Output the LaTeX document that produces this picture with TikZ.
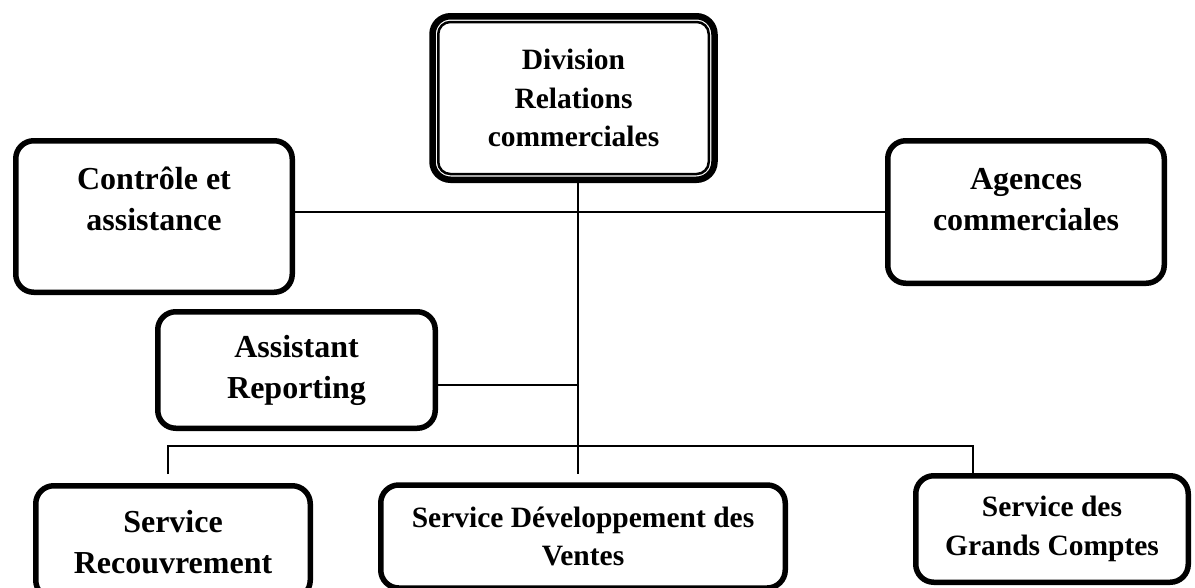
\documentclass[tikz,border=0pt]{standalone}
\usepackage{fontspec}
\setmainfont{Liberation Serif}
\usetikzlibrary{positioning,calc}

\begin{document}
\begin{tikzpicture}[x=1pt, y=-1pt,
  box/.style={draw, line width=5.5pt, rounded corners=18pt, align=center, inner sep=0pt,
    font=\fontsize{29.5}{38.5}\selectfont\bfseries},
  bigbox/.style={box, font=\fontsize{32}{41}\selectfont\bfseries},
  link/.style={line width=1.6pt},
]
  \useasboundingbox (0,0) rectangle (1195,587);

  % head of the division, double frame
  \node[box, line width=6.5pt, minimum width=282pt, minimum height=163.5pt] (div) at (573.5,98) {Division\\Relations\\commerciales};
  \draw[line width=2.5pt, rounded corners=12pt] ([shift={(9,9)}]div.north west) rectangle ([shift={(-9,-9)}]div.south east);

  \node[bigbox, minimum width=276.5pt, text height=89.25pt, text depth=62.25pt] (ctrl) at (154,216.5) {Contrôle et\\assistance};
  \node[bigbox, minimum width=276.5pt, text height=89.25pt, text depth=53.25pt] (agen) at (1026,212) {Agences\\commerciales};
  \node[bigbox, minimum width=277.5pt, minimum height=116.5pt] (asst) at (296.5,370) {Assistant\\Reporting};

  \node[bigbox, minimum width=274.5pt, minimum height=112.5pt] (recv) at (173,542) {Service\\Recouvrement};
  \node[box, minimum width=404.5pt, minimum height=103pt] (dev) at (583,536.5) {Service Développement des\\Ventes};
  \node[box, minimum width=272.5pt, minimum height=106.5pt] (gc) at (1052,529) {Service des\\Grands Comptes};

  \coordinate (trunk) at (578,474);
  \coordinate (busL) at (168,446);
  \coordinate (busR) at (973,446);
  \coordinate (jA) at (578,385);

  \draw[link] (trunk |- div.south) -- (trunk);
  \draw[link] (ctrl.east |- agen.west) -- (agen.west);
  \draw[link] (asst.east |- jA) -- (jA);
  \draw[link] (busL |- trunk) -- (busL) -- (busR) -- (busR |- gc.north);
\end{tikzpicture}
\end{document}
